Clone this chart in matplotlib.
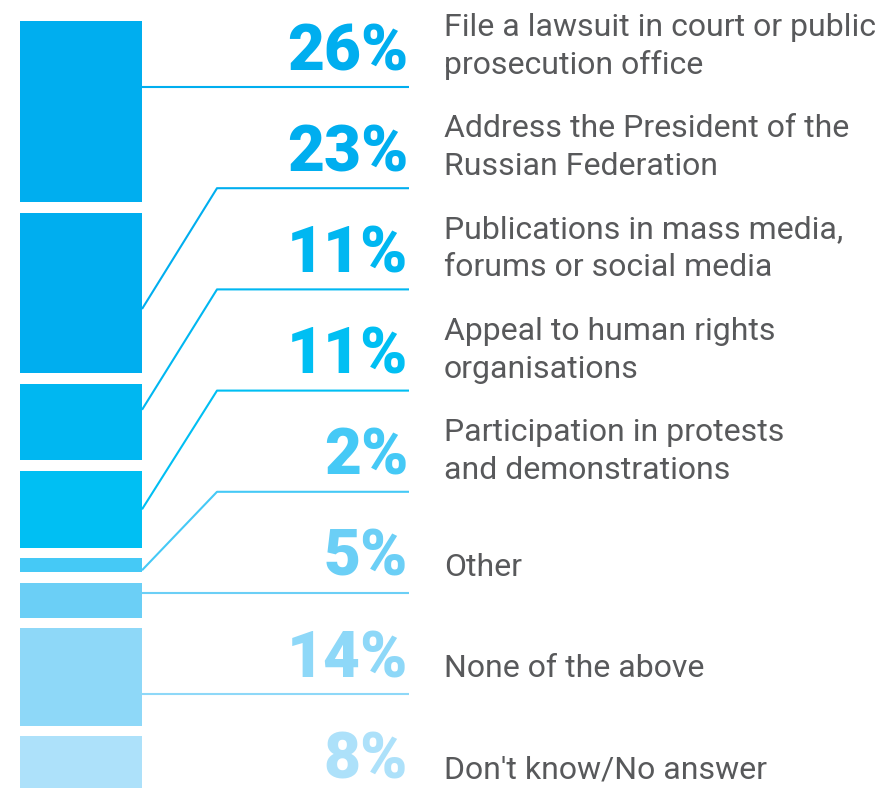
import matplotlib
matplotlib.use("Agg")
import matplotlib.pyplot as plt

# Survey answers, top to bottom
labels = [
    "File a lawsuit in court or public\nprosecution office",
    "Address the President of the\nRussian Federation",
    "Publications in mass media,\nforums or social media",
    "Appeal to human rights\norganisations",
    "Participation in protests\nand demonstrations",
    "Other",
    "None of the above",
    "Don't know/No answer",
]
values = [26, 23, 11, 11, 2, 5, 14, 8]
colors = ["#00AEEF", "#00AEEF", "#00B7F1", "#00BFF3",
          "#45C9F6", "#6BCFF6", "#8ED8F8", "#ADE1FA"]
# where the connector meets the bar, as a fraction of the segment (None = no kink)
anchor_frac = [None, 0.60, 0.34, 0.50, 0.86, None, None, None]

# layout in pixels
W, H = 888, 788
BAR_L, BAR_R = 20, 142
TOP = 21
SCALE = 6.97     # px per percent
GAP = 10.6
ROW0 = 70        # baseline of the first percentage
ROW_STEP = 101.2
PCT_RIGHT = 408
LINE_END = 409
ELBOW_X = 217
LABEL_X = 444

fig = plt.figure(figsize=(W / 100, H / 100), dpi=100)
ax = fig.add_axes([0, 0, 1, 1])
ax.set_xlim(0, W)
ax.set_ylim(H, 0)
ax.axis("off")

tops = []
cum = 0
for i, v in enumerate(values):
    tops.append(TOP + cum * SCALE + i * GAP)
    cum += v
heights = [v * SCALE for v in values]

ax.bar((BAR_L + BAR_R) / 2, heights, width=BAR_R - BAR_L, bottom=tops,
       color=colors, align="center", linewidth=0)

for i, (lab, v, c) in enumerate(zip(labels, values, colors)):
    base = ROW0 + i * ROW_STEP
    ax.text(PCT_RIGHT, base, f"{v}%", ha="right", va="baseline",
            fontsize=46, fontweight="black", family="Roboto", color=c)

    # connector line
    line_y = base + 17
    if i < len(values) - 1:
        if anchor_frac[i] is None:
            ax.plot([BAR_R, LINE_END], [line_y, line_y], color=c, lw=1.5,
                    solid_capstyle="butt")
        else:
            ay = tops[i] + heights[i] * anchor_frac[i]
            ax.plot([BAR_R, ELBOW_X, LINE_END], [ay, line_y, line_y],
                    color=c, lw=1.5, solid_capstyle="butt")

    lines = lab.split("\n")
    if len(lines) == 2:
        ys = [base - 34, base + 4]
    else:
        ys = [base]
    for t, y in zip(lines, ys):
        ax.text(LABEL_X, y, t, ha="left", va="baseline", fontsize=23,
                family="Roboto", color="#58595B")

fig.savefig("out.png", dpi=100, facecolor="white")
